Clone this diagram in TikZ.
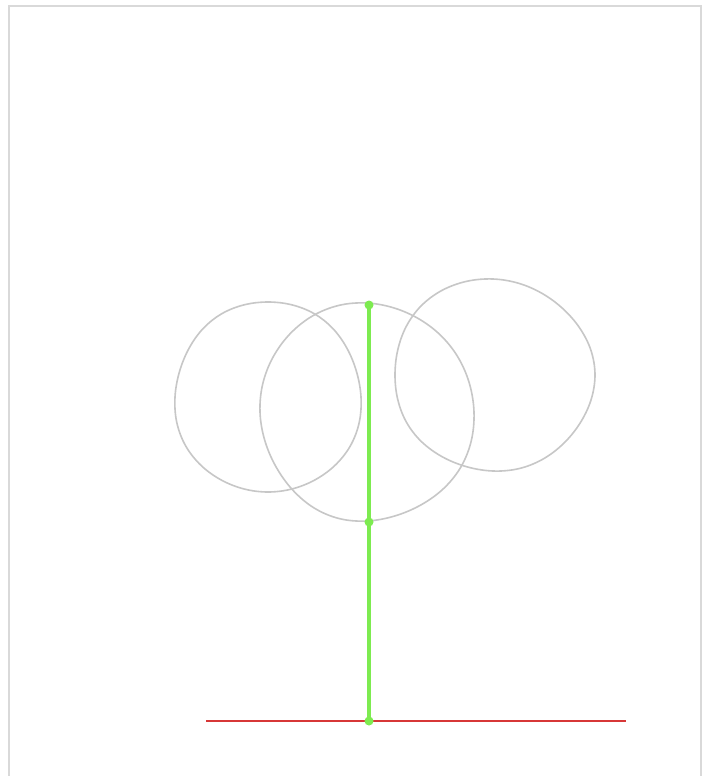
\documentclass[tikz,border=0pt]{standalone}
\begin{document}
\begin{tikzpicture}[x=0.5pt,y=-0.5pt,
  sketch/.style={draw=black!22,line width=0.8pt},
  stem/.style={draw=stemgreen,line width=1.6pt},
  ground/.style={draw=groundred,line width=1pt},
  dotmark/.style={circle,fill=stemgreen,inner sep=0pt,minimum size=4.5pt}]
\definecolor{stemgreen}{RGB}{125,235,80}
\definecolor{groundred}{RGB}{215,55,55}
\useasboundingbox (0,0) rectangle (712,776);
\fill[white] (0,0) rectangle (712,776);
\draw[black!15,line width=0.6pt] (9,780) -- (9,6) -- (701,6) -- (701,780);
% circles (slightly irregular, hand-drawn look)
\draw[sketch] plot[smooth cycle,tension=0.6,domain=0:345,samples=24,variable=\t] ({268+(93+2*sin(3*\t))*cos(\t)},{397+(97+2*cos(2*\t))*sin(\t)});
\draw[sketch] plot[smooth cycle,tension=0.6,domain=0:345,samples=24,variable=\t] ({367+(107+2*sin(2*\t))*cos(\t)},{412+(109+2*cos(3*\t))*sin(\t)});
\draw[sketch] plot[smooth cycle,tension=0.6,domain=0:345,samples=24,variable=\t] ({493+(100+2*cos(3*\t))*cos(\t)},{375+(96+2*sin(2*\t))*sin(\t)});
% stem
\coordinate (top) at (369,305);
\coordinate (mid) at (369,522);
\coordinate (base) at (369,721);
\coordinate (gl) at (206,721);
\coordinate (gr) at (626,721);
\draw[ground] (gl) -- (gr);
\draw[stem] (top) -- (mid) -- (base);
\node[dotmark] (t) at (top) {};
\node[dotmark] (m) at (mid) {};
\node[dotmark] (b) at (base) {};
\end{tikzpicture}
\end{document}
